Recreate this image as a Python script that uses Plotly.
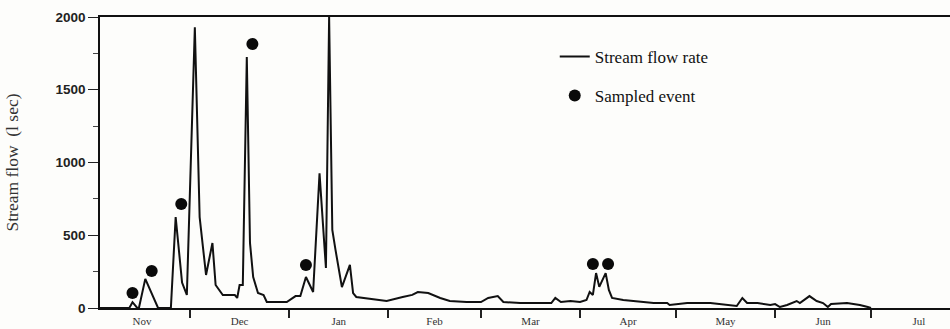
import plotly.graph_objects as go

# Daily stream flow record (l/sec), Nov 1999 - Jul 2000
flow_dates = [
    "1999-11-01", "1999-11-12", "1999-11-13", "1999-11-14 12:00", "1999-11-15",
    "1999-11-17", "1999-11-21", "1999-11-25", "1999-11-26 12:00", "1999-11-28 12:00",
    "1999-11-30", "1999-12-02 12:00", "1999-12-04", "1999-12-06", "1999-12-08",
    "1999-12-09", "1999-12-11 06:00", "1999-12-15", "1999-12-15 18:00", "1999-12-16 12:00",
    "1999-12-17 12:00", "1999-12-18 18:00", "1999-12-19 18:00", "1999-12-20 18:00", "1999-12-22 06:00",
    "1999-12-24", "1999-12-25", "1999-12-31 06:00", "2000-01-03", "2000-01-04 12:00",
    "2000-01-06 06:00", "2000-01-08 12:00", "2000-01-10 12:00", "2000-01-12 12:00", "2000-01-13 12:00",
    "2000-01-14 12:00", "2000-01-15 12:00", "2000-01-17 12:00", "2000-01-20", "2000-01-21",
    "2000-01-22", "2000-01-26", "2000-01-31 12:00", "2000-02-05 12:00", "2000-02-08 12:00",
    "2000-02-10 06:00", "2000-02-13 12:00", "2000-02-17 06:00", "2000-02-20 06:00", "2000-02-25 12:00",
    "2000-03-01", "2000-03-03 06:00", "2000-03-06 06:00", "2000-03-08", "2000-03-13 06:00",
    "2000-03-23", "2000-03-24 06:00", "2000-03-26", "2000-03-29", "2000-04-01",
    "2000-04-03", "2000-04-04", "2000-04-05", "2000-04-06", "2000-04-07",
    "2000-04-09", "2000-04-10", "2000-04-11", "2000-04-14 12:00", "2000-04-24",
    "2000-04-28 06:00", "2000-04-29", "2000-05-04 12:00", "2000-05-11 18:00", "2000-05-20",
    "2000-05-21 18:00", "2000-05-23 06:00", "2000-05-26 12:00", "2000-05-30 12:00", "2000-06-01",
    "2000-06-02 12:00", "2000-06-04 18:00", "2000-06-07 18:00", "2000-06-08 18:00", "2000-06-11 18:00",
    "2000-06-14", "2000-06-16", "2000-06-17 12:00", "2000-06-18 12:00", "2000-06-23 12:00",
    "2000-06-27 12:00", "2000-06-30", "2000-07-01",
]
flow_values = [
    0, 0, 40, 0, 0,
    200, 0, 0, 625, 175,
    90, 1930, 625, 227, 447,
    158, 89, 89, 69, 158,
    158, 1725, 447, 213, 103,
    89, 41, 41, 82, 82,
    213, 110, 925, 275, 2000,
    536, 399, 144, 296, 103,
    76, 65, 48, 75, 90,
    110, 103, 69, 48, 41,
    41, 69, 82, 41, 34,
    34, 69, 41, 48, 41,
    55, 110, 90, 240, 145,
    240, 124, 69, 55, 34,
    34, 21, 34, 34, 14,
    69, 34, 34, 21, 27,
    7, 21, 48, 34, 82,
    48, 34, 7, 27, 34,
    21, 7, 0,
]

# Storm events that were sampled
event_dates = [
    "1999-11-13", "1999-11-19", "1999-11-28 06:00", "1999-12-20 12:00",
    "2000-01-06 06:00", "2000-04-05", "2000-04-09 18:00",
]
event_values = [103, 254, 715, 1814, 295, 302, 302]

month_tick_start = "1999-11-01"

fig = go.Figure()

fig.add_trace(go.Scatter(
    x=flow_dates, y=flow_values, mode="lines",
    name="Stream flow rate",
    line=dict(color="#111111", width=2),
    legendgroup="a",
))

fig.add_trace(go.Scatter(
    x=event_dates, y=event_values, mode="markers",
    name="Sampled event",
    marker=dict(color="#0a0a0a", size=12, symbol="circle"),
    legendgroup="b",
))

serif = "Liberation Serif, Times New Roman, serif"

fig.update_layout(
    width=950, height=329,
    margin=dict(l=100, r=0, t=17, b=21),
    paper_bgcolor="#fdfdfb",
    plot_bgcolor="#fdfdfb",
    showlegend=True,
    legend=dict(
        x=0.535, y=0.925, xanchor="left", yanchor="top",
        font=dict(family=serif, size=17, color="#111"),
        bgcolor="rgba(0,0,0,0)",
        tracegroupgap=14,
        traceorder="grouped",
    ),
    xaxis=dict(
        type="date",
        automargin=False,
        range=["1999-11-02 20:00", "2000-07-25 17:00"],
        tick0=month_tick_start, dtick="M1",
        tickformat="%b",
        ticklabelmode="period",
        ticks="outside", ticklen=8, tickwidth=1.5, tickcolor="#222",
        ticklabelstandoff=-6,
        showline=True, linecolor="#111", linewidth=2, mirror=True,
        showgrid=False, zeroline=False,
        tickfont=dict(family=serif, size=11, color="#333"),
    ),
    yaxis=dict(
        automargin=False,
        range=[0, 2000],
        tick0=0, dtick=500,
        ticks="outside", ticklen=10, tickwidth=1.2, tickcolor="#222",
        minor=dict(dtick=250, ticks="outside", ticklen=5, tickcolor="#444"),
        showline=True, linecolor="#111", linewidth=1.5,
        showgrid=False, zeroline=False,
        tickfont=dict(family="Liberation Sans, Arial, sans-serif", size=13.5,
                      color="#222", weight="bold"),
        title=dict(text="Stream flow  (l sec)",
                   font=dict(family=serif, size=17.5, color="#333"),
                   standoff=32),
    ),
)

fig.write_html("out.html")
